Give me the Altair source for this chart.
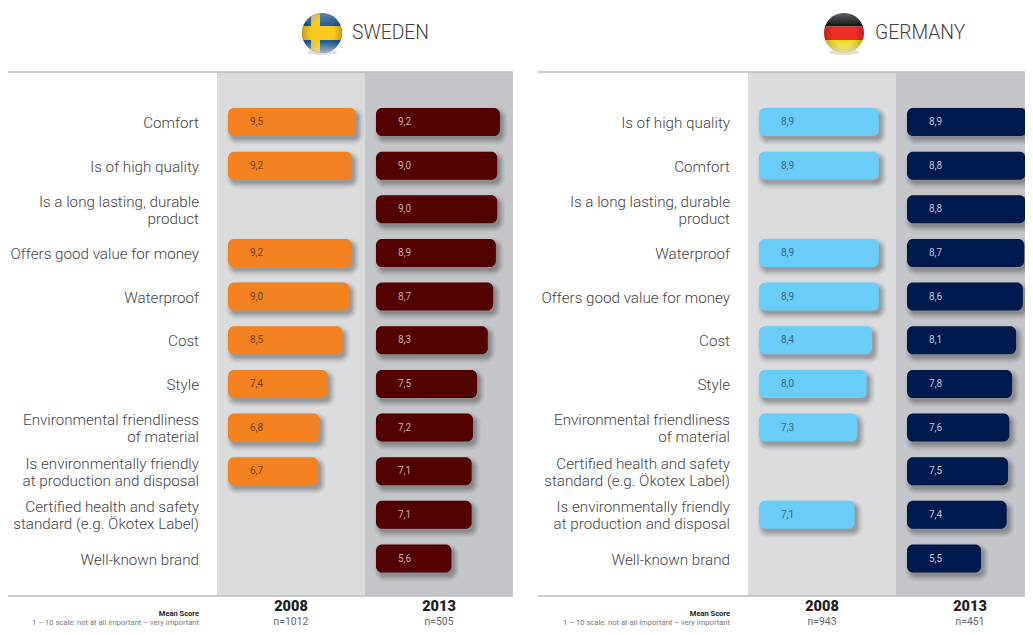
import base64
import altair as alt
import pandas as pd

sweden_labels = ["Comfort", "Is of high quality", "Is a long lasting, durable\nproduct",
    "Offers good value for money", "Waterproof", "Cost", "Style",
    "Environmental friendliness\nof material", "Is environmentally friendly\nat production and disposal",
    "Certified health and safety\nstandard (e.g. Ökotex Label)", "Well-known brand"]
sweden_2008 = [9.5, 9.2, None, 9.2, 9.0, 8.5, 7.4, 6.8, 6.7, None, None]
sweden_2013 = [9.2, 9.0, 9.0, 8.9, 8.7, 8.3, 7.5, 7.2, 7.1, 7.1, 5.6]

germany_labels = ["Is of high quality", "Comfort", "Is a long lasting, durable\nproduct",
    "Waterproof", "Offers good value for money", "Cost", "Style",
    "Environmental friendliness\nof material", "Certified health and safety\nstandard (e.g. Ökotex Label)",
    "Is environmentally friendly\nat production and disposal", "Well-known brand"]
germany_2008 = [8.9, 8.9, None, 8.9, 8.9, 8.4, 8.0, 7.3, None, 7.1, None]
germany_2013 = [8.9, 8.8, 8.8, 8.7, 8.6, 8.1, 7.8, 7.6, 7.5, 7.4, 5.5]

FONT = "Roboto"
OX, OY = 8, 8
W, H = 1017, 619
K = 13.47
ROW_STEP = 43.65
ROW0 = 122.0 - OY
X_SCALE = alt.Scale(domain=[0, W / K], range=[0, W], nice=False, zero=False)
Y_SCALE = alt.Scale(domain=[-ROW0 / ROW_STEP, (H - ROW0) / ROW_STEP], range=[0, H], nice=False, zero=False)
ONE = alt.Data(values=[{"a": 1}])
X = lambda f: alt.X(f, scale=X_SCALE, axis=None)
Y = lambda f: alt.Y(f, scale=Y_SCALE, axis=None)
TOP, BOTTOM = 72 - OY, 596 - OY


def svg_uri(body):
    svg = ('<svg xmlns="http://www.w3.org/2000/svg" width="48" height="48" viewBox="0 0 48 48">'
           '<defs><clipPath id="c"><circle cx="24" cy="24" r="20"/></clipPath>'
           '<linearGradient id="g" x1="0" y1="0" x2="0" y2="1">'
           '<stop offset="0" stop-color="#fff" stop-opacity=".32"/>'
           '<stop offset=".3" stop-color="#fff" stop-opacity="0"/>'
           '<stop offset=".72" stop-color="#fff" stop-opacity="0"/>'
           '<stop offset="1" stop-color="#fff" stop-opacity=".6"/></linearGradient>'
           '<radialGradient id="s"><stop offset=".6" stop-color="#000" stop-opacity="0"/>'
           '<stop offset="1" stop-color="#000" stop-opacity=".22"/></radialGradient></defs>'
           '<ellipse cx="24" cy="43" rx="15" ry="3" fill="#000" opacity=".12"/>'
           '<g clip-path="url(#c)">' + body + '</g>'
           '<circle cx="24" cy="24" r="20" fill="url(#s)"/>'
           '<circle cx="24" cy="24" r="20" fill="url(#g)"/></svg>')
    return "data:image/svg+xml;base64," + base64.b64encode(svg.encode()).decode()


SWE_FLAG = svg_uri('<rect width="48" height="48" fill="#1d5f97"/>'
                   '<rect x="0" y="17" width="48" height="14" fill="#fdc81e"/>'
                   '<rect x="13" y="0" width="9" height="48" fill="#fdc81e"/>')
GER_FLAG = svg_uri('<rect width="48" height="17.5" fill="#1a1a1a"/>'
                   '<rect y="17.5" width="48" height="13.5" fill="#ee2b24"/>'
                   '<rect y="31" width="48" height="17" fill="#f0dc28"/>')


def text_layer(text, x, y, **kw):
    return alt.Chart(ONE).mark_text(text=text, font=FONT, **kw).encode(x=alt.value(x - OX), y=alt.value(y - OY))


def rect_px(x0, x1, color):
    return alt.Chart(ONE).mark_rect(color=color).encode(
        x=alt.value(x0 - OX), x2=alt.value(x1 - OX), y=alt.value(TOP), y2=alt.value(BOTTOM))


def rules(x0, x1):
    return [alt.Chart(ONE).mark_rule(color="#babcbf", strokeWidth=1.5).encode(
        x=alt.value(x0 - OX), x2=alt.value(x1 - OX), y=alt.value(y)) for y in (TOP, BOTTOM)]


def label_layers(labels, right):
    df = pd.DataFrame({"row": range(len(labels)), "label": labels})
    df["two"] = df["label"].str.contains("\n")
    out = []
    for two, part in df.groupby("two"):
        out.append(alt.Chart(part[["row", "label"]]).mark_text(
            font=FONT, fontSize=15.2, fontWeight=300, align="right", baseline="middle",
            lineBreak="\n", lineHeight=17, color="#444444", dy=-7.5 if two else 1).encode(
            x=alt.value(right - OX), y=Y("row:Q"), text="label:N"))
    out += [
        text_layer("Mean Score", right, 614, fontSize=7.5, fontWeight="bold", align="right", color="#222"),
        text_layer("1 – 10 scale: not at all important – very important", right, 623, fontSize=7.6,
                   align="right", color="#777")]
    return out


def bar_layers(values, base_px, fill, text_color, year, n, cx):
    base = (base_px - OX) / K
    rows = [{"row": i, "start": base, "end": base + v, "lo": i - 14 / ROW_STEP, "hi": i + 14 / ROW_STEP,
             "text": f"{v:.1f}".replace(".", ",")}
            for i, v in enumerate(values) if v is not None]
    df = pd.DataFrame(rows)
    enc = dict(x=X("start:Q"), x2="end:Q", y=Y("lo:Q"), y2="hi:Q")
    out = []
    for grow, op in ((5, .03), (4, .04), (3, .05), (2, .06), (1, .07), (0, .08), (-1, .08)):
        out.append(alt.Chart(df).mark_rect(
            color="#222", opacity=op, cornerRadius=max(6 + grow, 1),
            xOffset=3 - grow, x2Offset=3 + grow, yOffset=4 - grow, y2Offset=4 + grow).encode(**enc))
    out.append(alt.Chart(df).mark_rect(color=fill, cornerRadius=6).encode(**enc))
    out.append(alt.Chart(df).mark_text(font=FONT, fontSize=10, align="left", baseline="middle", dx=22,
                                       color=text_color).encode(x=X("start:Q"), y=Y("row:Q"), text="text:N"))
    out.append(text_layer(year, cx, 606.5, fontSize=14.5, fontWeight=900, align="center", color="#222"))
    out.append(text_layer(n, cx, 621.5, fontSize=10.4, align="center", color="#666"))
    return out


def header(title, uri, flag_x, text_x):
    return [
        alt.Chart(ONE).mark_image(url=uri, width=48, height=48).encode(x=alt.value(flag_x - OX), y=alt.value(33 - OY)),
        text_layer(title, text_x, 33, fontSize=19.3, fontWeight=300, align="left", baseline="middle", color="#3f3f3f"),
    ]


layers = [
    rect_px(217, 365, "#dadcde"), rect_px(365, 513, "#c5c6c9"),
    rect_px(748, 896, "#dadcde"), rect_px(896, 1033, "#c5c6c9"),
    *rules(6, 513), *rules(538, 1033),
    *label_layers(sweden_labels, 199), *label_layers(germany_labels, 730),
    *bar_layers(sweden_2008, 228, "#f58220", "#6e4015", "2008", "n=1012", 291),
    *bar_layers(sweden_2013, 376, "#520000", "#d0a8a8", "2013", "n=505", 439),
    *bar_layers(germany_2008, 759, "#69cdf7", "#3c6684", "2008", "n=943", 822),
    *bar_layers(germany_2013, 907, "#001a4d", "#b9c5d8", "2013", "n=451", 970),
    *header("SWEDEN", SWE_FLAG, 322, 352),
    *header("GERMANY", GER_FLAG, 844, 875),
]

chart = alt.layer(*layers).properties(
    width=W, height=H, autosize=alt.AutoSizeParams(type="none"),
    padding=0, background="white"
).configure_view(stroke=None)

chart.save("out.html", embed_options={"renderer": "svg", "actions": False})
